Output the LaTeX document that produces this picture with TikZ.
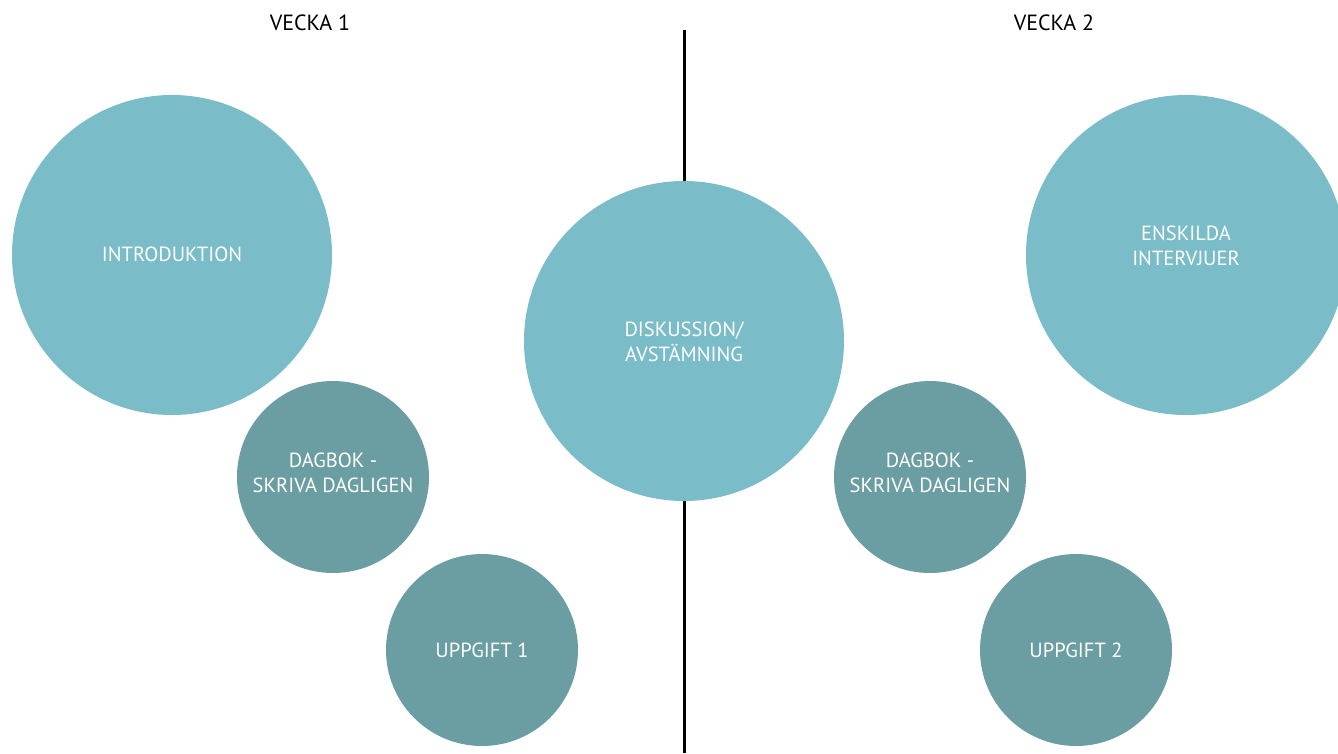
\documentclass[tikz,border=0pt]{standalone}
\usepackage{fontspec}
\setmainfont{PT Sans}
\definecolor{lightteal}{HTML}{7ABCC8}
\definecolor{darkteal}{HTML}{6B9EA2}
\begin{document}
\begin{tikzpicture}[x=1pt,y=-1pt,
  bigcirc/.style={circle,fill=lightteal,draw=none,inner sep=0pt,minimum size=320pt},
  smallcirc/.style={circle,fill=darkteal,draw=none,inner sep=0pt,minimum size=192pt},
  txt/.style={text=white,align=center,inner sep=0pt,font=\fontsize{20.5}{25.5}\selectfont},
  week/.style={text=black,font=\fontsize{22}{26}\selectfont,inner sep=0pt}]
\useasboundingbox (0,0) rectangle (1338,753);
\clip (0,0) rectangle (1338,753);
\coordinate (ltop) at (684,30);
\coordinate (lbot) at (684,753);
\draw[line width=3pt,black] (ltop) -- (lbot);
\node[week] (v1) at (310,23) {VECKA 1};
\node[week] (v2) at (1054,23) {VECKA 2};
\node[bigcirc] (intro) at (172,255) {};
\node[bigcirc] (disk) at (684,341) {};
\node[bigcirc] (ensk) at (1186,255) {};
\node[smallcirc] (dag1) at (333,477) {};
\node[smallcirc] (upp1) at (482,650) {};
\node[smallcirc] (dag2) at (930,477) {};
\node[smallcirc] (upp2) at (1076,650) {};
\node[txt] (introt) at ([yshift=1pt]intro.center) {INTRODUKTION};
\node[txt] (diskt) at ([yshift=-1pt]disk.center) {DISKUSSION/\\AVSTÄMNING};
\node[txt] (enskt) at ([yshift=9pt]ensk.center) {ENSKILDA\\INTERVJUER};
\node[txt] (dag1t) at ([yshift=4pt]dag1.center) {DAGBOK -\\SKRIVA DAGLIGEN};
\node[txt] (dag2t) at ([yshift=4pt]dag2.center) {DAGBOK -\\SKRIVA DAGLIGEN};
\node[txt] (upp1t) at (upp1.center) {UPPGIFT 1};
\node[txt] (upp2t) at (upp2.center) {UPPGIFT 2};
\end{tikzpicture}
\end{document}
